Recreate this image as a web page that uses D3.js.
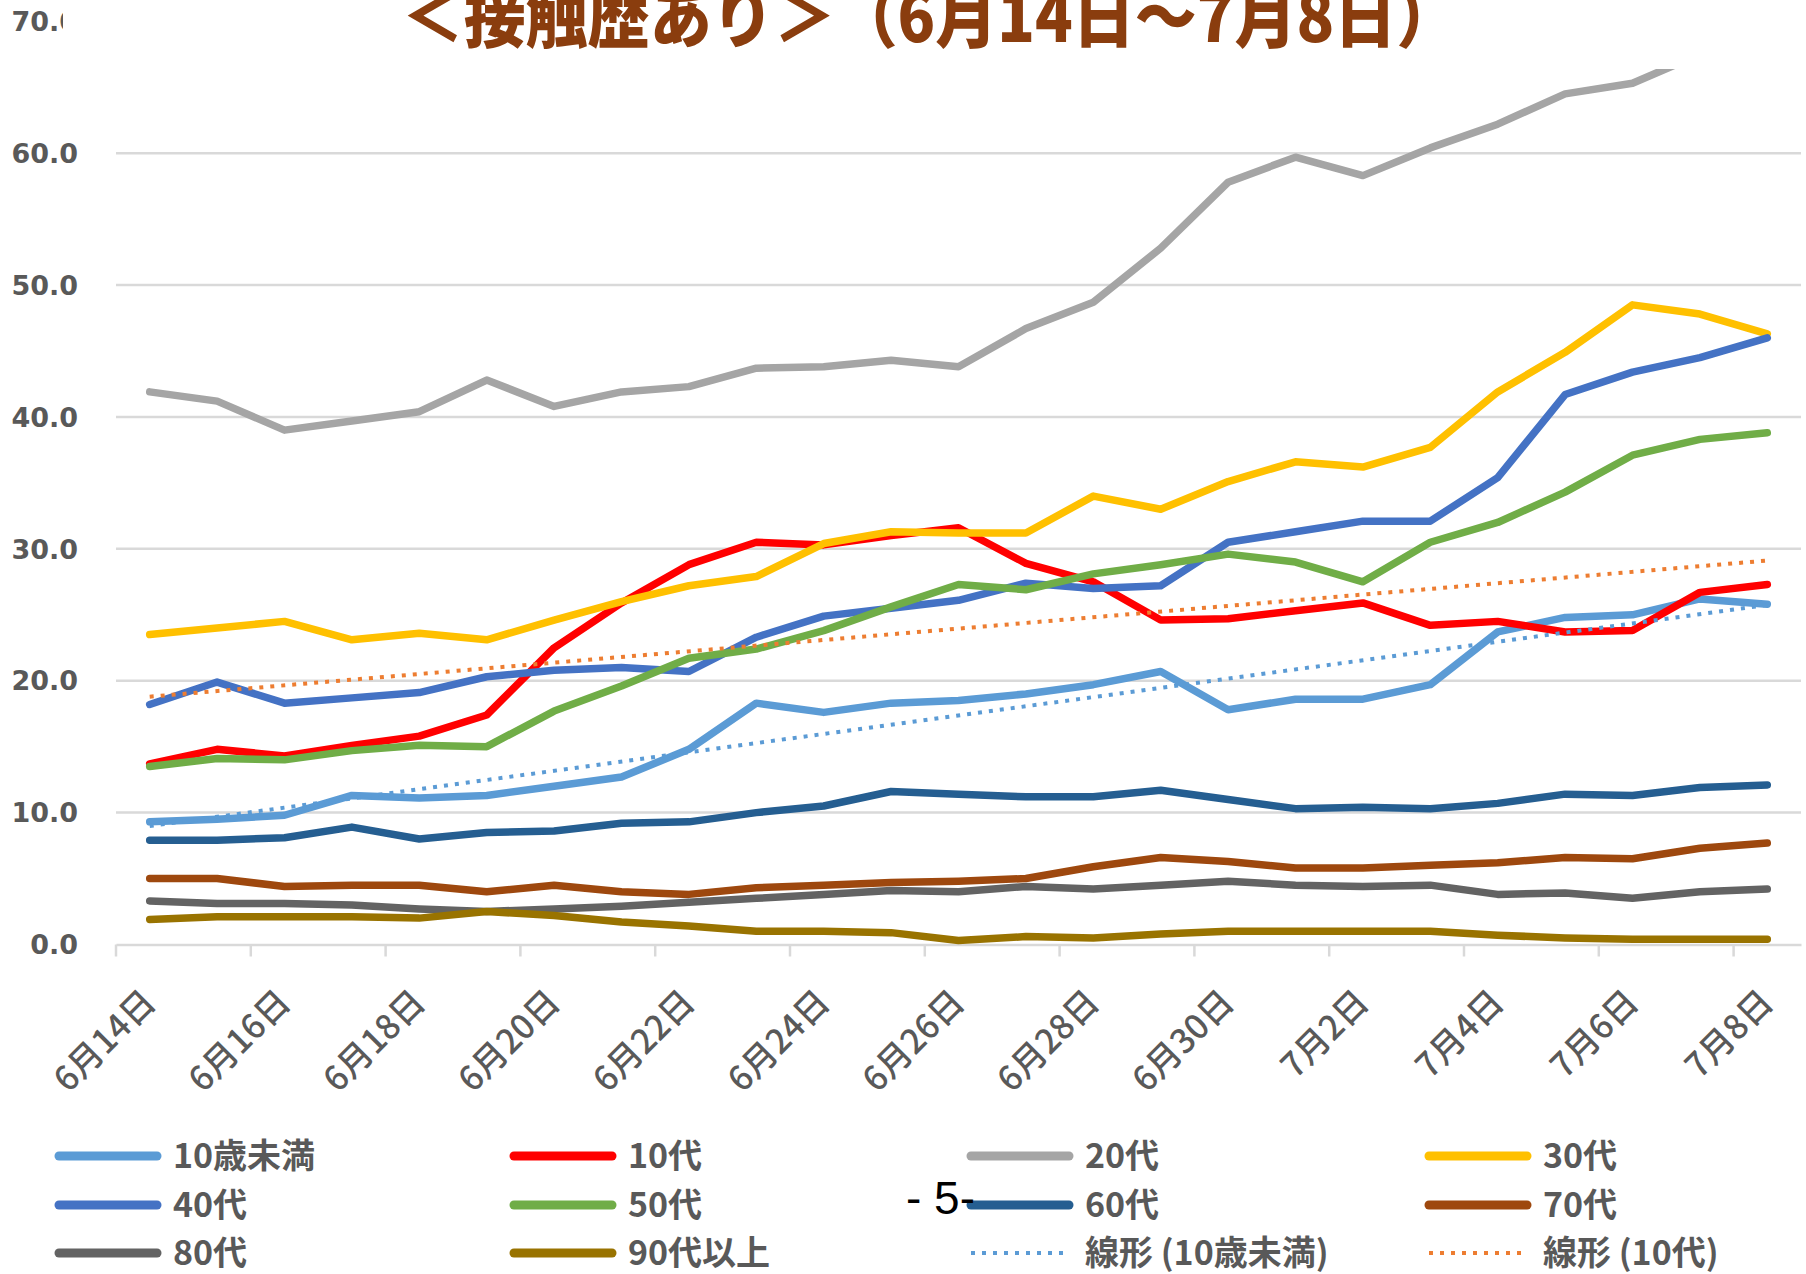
<!DOCTYPE html>
<html>
<head>
<meta charset="utf-8">
<script src="https://cdn.jsdelivr.net/npm/d3@7"></script>
<style>
  body { margin: 0; background: #fff; }
  svg { display: block; }
</style>
</head>
<body>
<div id="chart"></div>
<script>
// 日付（6月14日～7月8日）
const dates = ["6月14日", "6月15日", "6月16日", "6月17日", "6月18日", "6月19日", "6月20日",
  "6月21日", "6月22日", "6月23日", "6月24日", "6月25日", "6月26日", "6月27日", "6月28日",
  "6月29日", "6月30日", "7月1日", "7月2日", "7月3日", "7月4日", "7月5日", "7月6日", "7月7日", "7月8日"];

const under10 = [9.3, 9.5, 9.8, 11.3, 11.1, 11.3, 12.0, 12.7, 14.8, 18.3, 17.6, 18.3, 18.5, 19.0, 19.7, 20.7, 17.8, 18.6, 18.6, 19.7, 23.7, 24.8, 25.0, 26.2, 25.8];
const age10 = [13.7, 14.8, 14.3, 15.1, 15.8, 17.4, 22.5, 25.9, 28.8, 30.5, 30.3, 31.0, 31.6, 28.9, 27.5, 24.6, 24.7, 25.3, 25.9, 24.2, 24.5, 23.7, 23.8, 26.7, 27.3];
const age20 = [41.9, 41.2, 39.0, 39.7, 40.4, 42.8, 40.8, 41.9, 42.3, 43.7, 43.8, 44.3, 43.8, 46.7, 48.7, 52.8, 57.8, 59.7, 58.3, 60.4, 62.2, 64.5, 65.3, 67.5, 69.0];
const age30 = [23.5, 24.0, 24.5, 23.1, 23.6, 23.1, 24.6, 26.0, 27.2, 27.9, 30.4, 31.3, 31.2, 31.2, 34.0, 33.0, 35.1, 36.6, 36.2, 37.7, 41.9, 44.9, 48.5, 47.8, 46.3];
const age40 = [18.2, 19.9, 18.3, 18.7, 19.1, 20.3, 20.8, 21.0, 20.7, 23.3, 24.9, 25.5, 26.1, 27.4, 27.0, 27.2, 30.5, 31.3, 32.1, 32.1, 35.4, 41.7, 43.4, 44.5, 46.0];
const age50 = [13.5, 14.1, 14.0, 14.7, 15.1, 15.0, 17.7, 19.6, 21.7, 22.4, 23.8, 25.6, 27.3, 26.9, 28.1, 28.8, 29.6, 29.0, 27.5, 30.5, 32.0, 34.3, 37.1, 38.3, 38.8];
const age60 = [7.9, 7.9, 8.1, 8.9, 8.0, 8.5, 8.6, 9.2, 9.3, 10.0, 10.5, 11.6, 11.4, 11.2, 11.2, 11.7, 11.0, 10.3, 10.4, 10.3, 10.7, 11.4, 11.3, 11.9, 12.1];
const age70 = [5.0, 5.0, 4.4, 4.5, 4.5, 4.0, 4.5, 4.0, 3.8, 4.3, 4.5, 4.7, 4.8, 5.0, 5.9, 6.6, 6.3, 5.8, 5.8, 6.0, 6.2, 6.6, 6.5, 7.3, 7.7];
const age80 = [3.3, 3.1, 3.1, 3.0, 2.7, 2.5, 2.7, 2.9, 3.2, 3.5, 3.8, 4.1, 4.0, 4.4, 4.2, 4.5, 4.8, 4.5, 4.4, 4.5, 3.8, 3.9, 3.5, 4.0, 4.2];
const age90 = [1.9, 2.1, 2.1, 2.1, 2.0, 2.5, 2.2, 1.7, 1.4, 1.0, 1.0, 0.9, 0.3, 0.6, 0.5, 0.8, 1.0, 1.0, 1.0, 1.0, 0.7, 0.5, 0.4, 0.4, 0.4];

const seriesNames = ["10歳未満", "10代", "20代", "30代", "40代", "50代", "60代", "70代", "80代", "90代以上"];
const seriesValues = [under10, age10, age20, age30, age40, age50, age60, age70, age80, age90];
const seriesColors = ["#5B9BD5", "#FF0000", "#A5A5A5", "#FFC000", "#4472C4", "#70AD47", "#255E91", "#9E480E", "#636363", "#997300"];

// 線形近似（10歳未満, 10代）
const trendNames = ["線形 (10歳未満)", "線形 (10代)"];
const trendSource = [under10, age10];
const trendColors = ["#5B9BD5", "#ED7D31"];

const yTicks = [0, 10, 20, 30, 40, 50, 60, 70];
const titleText = "＜接触歴あり＞（6月14日～7月8日）";

const W = 1806, H = 1274;

const svg = d3.select("#chart").append("svg")
  .attr("width", W)
  .attr("height", H);

svg.append("rect").attr("width", W).attr("height", H).attr("fill", "#fff");

const x = d3.scaleBand()
  .domain(dates)
  .range([116, 1801])
  .paddingInner(0)
  .paddingOuter(0);

const y = d3.scaleLinear()
  .domain([0, 70])
  .range([944.5, 21.3]);

const cx = d => x(d) + x.bandwidth() / 2;

// グリッド線
svg.append("g")
  .selectAll("line")
  .data(yTicks.filter(t => t > 0))
  .enter()
  .append("line")
  .attr("x1", 116)
  .attr("x2", 1801)
  .attr("y1", d => y(d))
  .attr("y2", d => y(d))
  .attr("stroke", "#D9D9D9")
  .attr("stroke-width", 2.5);

// X軸
const xAxis = d3.axisBottom(x)
  .tickValues(dates.filter((d, i) => i % 2 === 0))
  .tickSize(0)
  .tickFormat(d => d);

const gx = svg.append("g")
  .attr("transform", `translate(0,${y(0)})`)
  .call(xAxis);
gx.select(".domain").attr("stroke", "#D9D9D9").attr("stroke-width", 2.5);
gx.selectAll(".tick text")
  .attr("transform", "translate(8,60) rotate(-45)")
  .attr("x", 0)
  .attr("y", 0)
  .attr("dy", 0)
  .style("text-anchor", "end")
  .style("font-family", "'Noto Sans CJK JP', 'Noto Sans', sans-serif")
  .style("font-size", "34px")
  .style("font-weight", 500)
  .style("fill", "#595959");

// 目盛り（2日ごとの区切り）
svg.append("g")
  .selectAll("line")
  .data(dates.filter((d, i) => i % 2 === 0))
  .enter()
  .append("line")
  .attr("x1", d => x(d))
  .attr("x2", d => x(d))
  .attr("y1", y(0))
  .attr("y2", y(0) + 12)
  .attr("stroke", "#D9D9D9")
  .attr("stroke-width", 2.5);

// Y軸ラベル
svg.append("g")
  .selectAll("text")
  .data(yTicks)
  .enter()
  .append("text")
  .attr("x", 78)
  .attr("y", d => y(d))
  .attr("dy", "0.36em")
  .style("text-anchor", "end")
  .style("font-family", "'DejaVu Sans', sans-serif")
  .style("font-size", "27px")
  .style("font-weight", "bold")
  .style("fill", "#595959")
  .text(d => d.toFixed(1));

// 折れ線
const line = d3.line()
  .x((d, i) => cx(dates[i]))
  .y(d => y(d));

svg.append("g")
  .selectAll("path")
  .data(seriesValues)
  .enter()
  .append("path")
  .attr("d", d => line(d))
  .attr("fill", "none")
  .attr("stroke", (d, i) => seriesColors[i])
  .attr("stroke-width", 7.5)
  .attr("stroke-linejoin", "round")
  .attr("stroke-linecap", "round");

// 線形近似線（最小二乗法）
function linearFit(vals) {
  const idx = vals.map((v, i) => i);
  const mx = d3.mean(idx), my = d3.mean(vals);
  let num = 0, den = 0;
  idx.forEach(i => {
    num += (i - mx) * (vals[i] - my);
    den += (i - mx) * (i - mx);
  });
  const slope = num / den;
  return [my - slope * mx, my + slope * (vals.length - 1 - mx)];
}

svg.append("g")
  .selectAll("line")
  .data(trendSource)
  .enter()
  .append("line")
  .each(function (d, i) {
    const ends = linearFit(d);
    d3.select(this)
      .attr("x1", cx(dates[0]))
      .attr("y1", y(ends[0]))
      .attr("x2", cx(dates[dates.length - 1]))
      .attr("y2", y(ends[1]))
      .attr("stroke", trendColors[i]);
  })
  .attr("stroke-width", 4)
  .attr("stroke-dasharray", "4 7");

// タイトル背景（グラフ上部を隠す）
svg.append("rect")
  .attr("x", 63)
  .attr("y", 0)
  .attr("width", W - 63)
  .attr("height", 69)
  .attr("fill", "#fff");

svg.append("text")
  .attr("transform", "translate(930,42) scale(1,1.1)")
  .style("text-anchor", "middle")
  .style("font-family", "'Noto Sans CJK JP', sans-serif")
  .style("font-size", "62px")
  .style("font-weight", 900)
  .style("fill", "#8A3D0E")
  .text(titleText);

// 凡例
const legendItems = seriesNames.map((n, i) => ({ name: n, color: seriesColors[i], dotted: false }))
  .concat(trendNames.map((n, i) => ({ name: n, color: trendColors[i], dotted: true })));

const colX = [55, 510, 967, 1425];
const rowY = [1156, 1205, 1253];

const legend = svg.append("g")
  .selectAll("g")
  .data(legendItems)
  .enter()
  .append("g")
  .attr("transform", (d, i) => `translate(${colX[i % 4]},${rowY[Math.floor(i / 4)]})`);

legend.append("line")
  .attr("x1", 4)
  .attr("x2", 102)
  .attr("y1", 0)
  .attr("y2", 0)
  .attr("stroke", d => d.color)
  .attr("stroke-width", d => d.dotted ? 4 : 9)
  .attr("stroke-linecap", d => d.dotted ? "butt" : "round")
  .attr("stroke-dasharray", d => d.dotted ? "4 7" : null);

legend.append("text")
  .attr("x", 118)
  .attr("y", 0)
  .attr("dy", "0.36em")
  .style("font-family", "'Noto Sans CJK JP', sans-serif")
  .style("font-size", "34px")
  .style("font-weight", 700)
  .style("fill", "#595959")
  .text(d => d.name);

// ページ番号
svg.append("text")
  .attr("x", 906)
  .attr("y", 1214)
  .style("font-family", "'Liberation Sans', Arial, sans-serif")
  .style("font-size", "46px")
  .style("fill", "#000")
  .text("- 5-");
</script>
</body>
</html>
